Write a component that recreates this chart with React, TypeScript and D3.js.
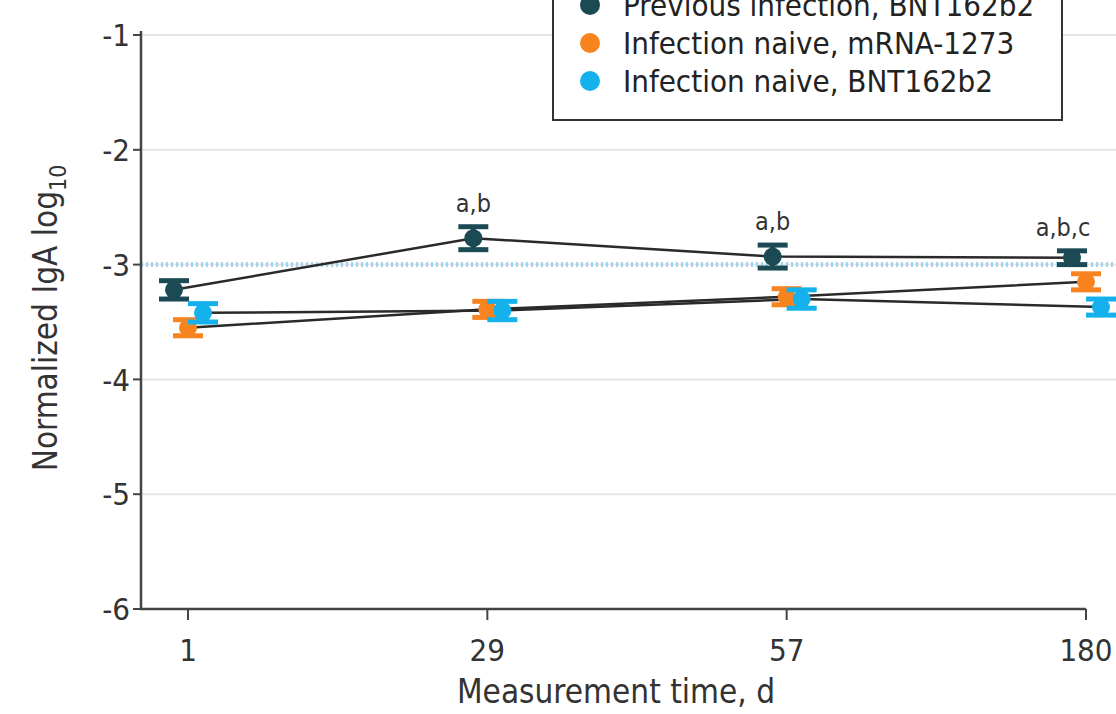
import React from "react";
import * as d3 from "d3";

const days = ["1", "29", "57", "180"];
const seriesNames = [
  "Previous infection, BNT162b2",
  "Infection naive, mRNA-1273",
  "Infection naive, BNT162b2",
];
const seriesColors = ["#1b4a55", "#f7841f", "#14b1ec"];
const prevInfMean = [-3.22, -2.77, -2.93, -2.94];
const prevInfErr = [0.08, 0.1, 0.1, 0.06];
const naiveMrnaMean = [-3.55, -3.39, -3.28, -3.15];
const naiveMrnaErr = [0.07, 0.07, 0.07, 0.07];
const naiveBntMean = [-3.42, -3.4, -3.3, -3.37];
const naiveBntErr = [0.08, 0.08, 0.08, 0.07];
const annotations = ["", "a,b", "a,b", "a,b,c"];
const yTicks = [-1, -2, -3, -4, -5, -6];
const referenceLevel = -3;

const W = 1116;
const H = 714;
const FONT = "'Liberation Sans Narrow', 'DejaVu Sans Condensed', 'Open Sans', sans-serif";

export default function App() {
  const x = d3.scalePoint<string>().domain(days).range([188, 1086]);
  const y = d3.scaleLinear().domain([-6, -1]).range([609, 35]);
  const axisLeft = 141;
  const dodge = [-14, 0, 15];
  const series = [
    { mean: prevInfMean, err: prevInfErr },
    { mean: naiveMrnaMean, err: naiveMrnaErr },
    { mean: naiveBntMean, err: naiveBntErr },
  ];
  const line = d3
    .line<number>()
    .x((_, i) => (x(days[i]) as number))
    .y((d) => y(d));

  return (
    <svg
      width={W}
      height={H}
      style={{ position: "absolute", left: 0, top: 0, background: "#fff" }}
      fontFamily={FONT}
    >
      {/* gridlines */}
      {yTicks.slice(0, 5).map((t) => (
        <line key={t} x1={axisLeft} x2={W} y1={y(t)} y2={y(t)} stroke="#e6e6e6" strokeWidth={2} />
      ))}
      {/* reference dotted line */}
      <line
        x1={axisLeft}
        x2={W}
        y1={y(referenceLevel)}
        y2={y(referenceLevel)}
        stroke="#9fd5ee"
        strokeWidth={5}
        strokeDasharray="2 3"
      />
      {/* axes */}
      <line x1={axisLeft} x2={axisLeft} y1={y(-1) - 4} y2={y(-6)} stroke="#444" strokeWidth={2.5} />
      <line x1={axisLeft - 1} x2={x("180") as number} y1={y(-6)} y2={y(-6)} stroke="#444" strokeWidth={2.5} />
      {yTicks.map((t) => (
        <g key={t}>
          <line x1={axisLeft - 8} x2={axisLeft} y1={y(t)} y2={y(t)} stroke="#444" strokeWidth={2} />
          <text x={axisLeft - 11} y={y(t)} dy="0.36em" textAnchor="end" fontSize={31} fill="#333">
            {t}
          </text>
        </g>
      ))}
      {days.map((d) => (
        <g key={d}>
          <line x1={x(d)} x2={x(d)} y1={y(-6)} y2={y(-6) + 11} stroke="#444" strokeWidth={2} />
          <text x={x(d)} y={y(-6) + 52} textAnchor="middle" fontSize={31} fill="#333">
            {d}
          </text>
        </g>
      ))}
      <text x={616} y={703} textAnchor="middle" fontSize={33} fill="#333">
        Measurement time, d
      </text>
      <text transform="translate(57,318) rotate(-90)" textAnchor="middle" fontSize={33} fill="#333">
        Normalized IgA log
        <tspan fontSize={23} dy={9}>10</tspan>
      </text>

      {/* lines */}
      {series.map((s, si) => (
        <path
          key={"l" + si}
          d={line.x((_, i) => (x(days[i]) as number) + dodge[si])(s.mean) || ""}
          fill="none"
          stroke="#2a2a2a"
          strokeWidth={2.5}
        />
      ))}
      {/* markers */}
      {series.map((s, si) =>
        s.mean.map((m, i) => {
          const cx = (x(days[i]) as number) + dodge[si];
          const top = y(m + s.err[i]);
          const bot = y(m - s.err[i]);
          const c = seriesColors[si];
          return (
            <g key={si + "-" + i}>
              <line x1={cx} x2={cx} y1={top} y2={bot} stroke={c} strokeWidth={5} />
              <line x1={cx - 15} x2={cx + 15} y1={top} y2={top} stroke={c} strokeWidth={5} />
              <line x1={cx - 15} x2={cx + 15} y1={bot} y2={bot} stroke={c} strokeWidth={5} />
              <circle cx={cx} cy={y(m)} r={9} fill={c} />
            </g>
          );
        })
      )}
      {/* annotations */}
      {annotations.map((a, i) =>
        a ? (
          <text
            key={"a" + i}
            x={(x(days[i]) as number) + dodge[0] + (i === 3 ? -9 : 0)}
            y={y(prevInfMean[i] + prevInfErr[i]) - 15}
            textAnchor="middle"
            fontSize={25}
            fill="#333"
          >
            {a}
          </text>
        ) : null
      )}

      {/* legend */}
      <rect x={553} y={-40} width={509} height={160} fill="#fff" stroke="#333" strokeWidth={2} />
      {seriesNames.map((n, i) => (
        <g key={n} transform={`translate(590,${5 + i * 38})`}>
          <circle r={10} fill={seriesColors[i]} />
          <text x={33} dy="0.36em" fontSize={31} fill="#222">
            {n}
          </text>
        </g>
      ))}
    </svg>
  );
}
